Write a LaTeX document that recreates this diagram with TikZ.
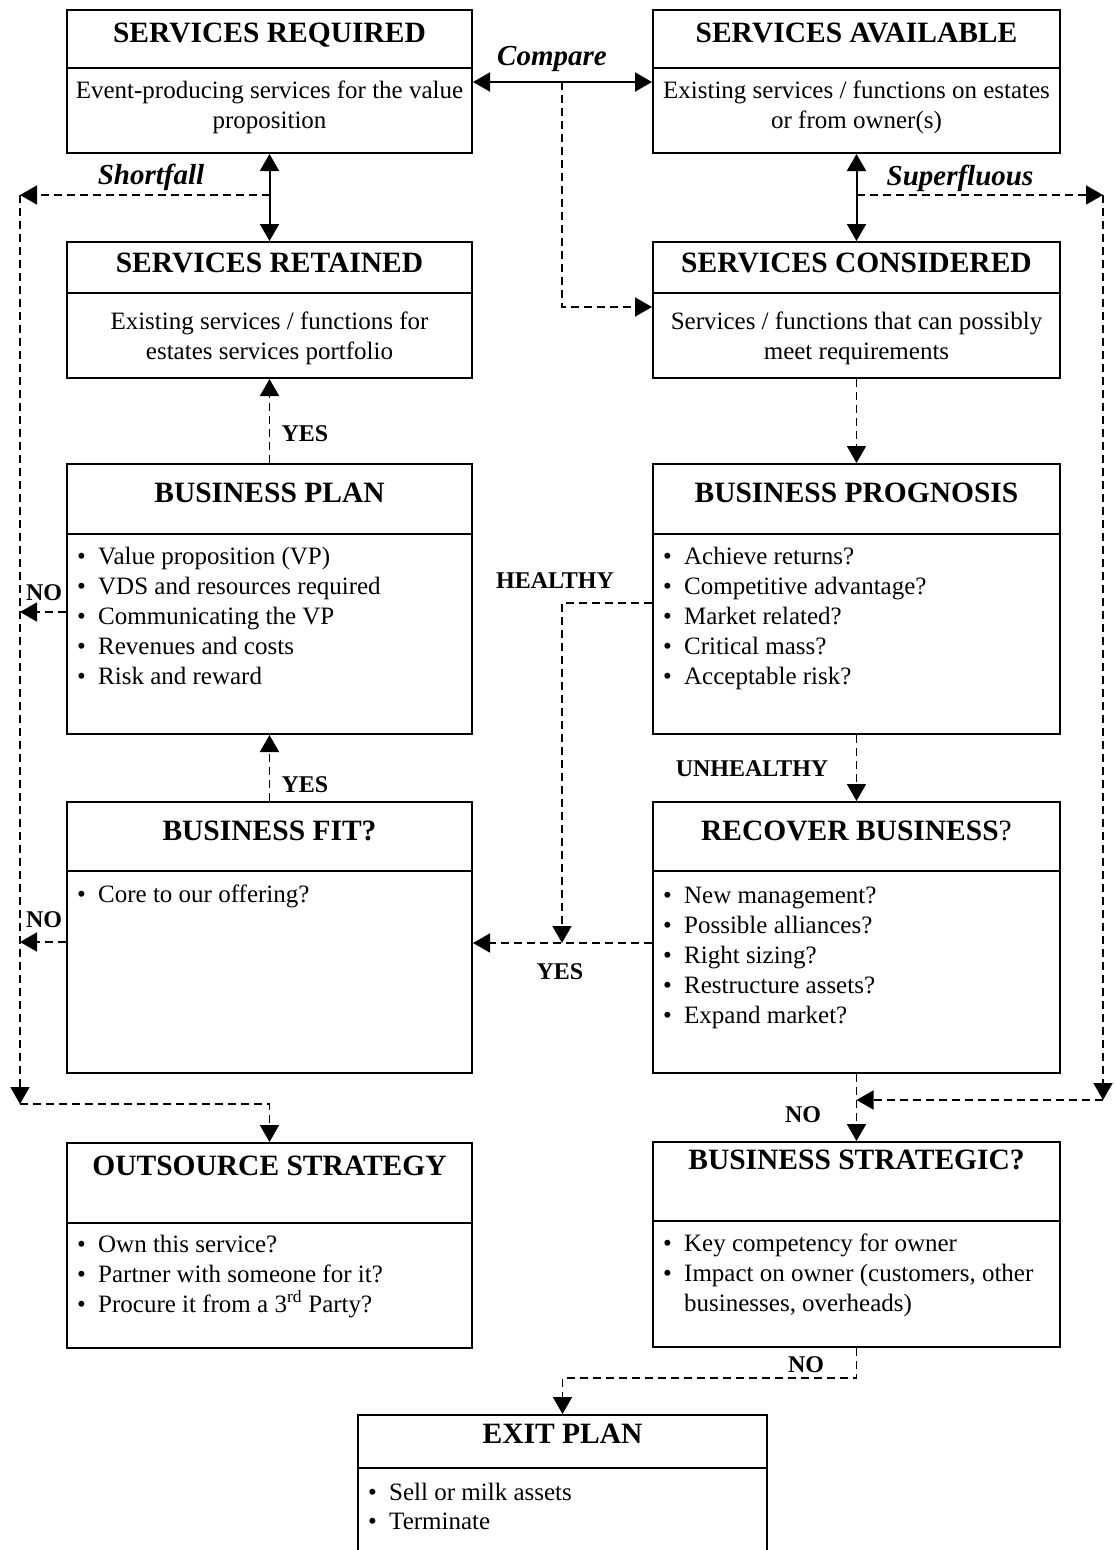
\documentclass[tikz,border=0pt]{standalone}
\usepackage{fontspec}
\setmainfont{Liberation Serif}
\usetikzlibrary{arrows.meta}

% A framed box with a header rule: name, x1, y1, x2, y2, y of the rule
\newcommand\flowbox[6]{%
  \node[box, minimum width={#4-#2}, minimum height={#5-#3}] (#1) at ({(#2+#4)/2},{(#3+#5)/2}) {};
  \draw[divider] (#2,#6) -- (#4,#6);
}
% One bulleted line: name, x, baseline y, text
\newcommand\bitem[4]{\node[items] (#1) at (#2,#3) {\makebox[21pt][l]{\textbullet}#4};}

\begin{document}
\begin{tikzpicture}[x=1pt,y=-1pt,
  box/.style={draw, line width=2pt, rectangle, inner sep=0pt},
  divider/.style={line width=1.6pt},
  title/.style={font=\fontsize{29.5}{35}\selectfont\bfseries, anchor=base, inner sep=0pt},
  body/.style={font=\fontsize{25}{30}\selectfont, anchor=base, inner sep=0pt},
  items/.style={font=\fontsize{25}{30}\selectfont, anchor=base west, inner sep=0pt},
  tag/.style={font=\fontsize{24}{28}\selectfont\bfseries, anchor=base, inner sep=0pt},
  itag/.style={font=\fontsize{29}{34}\selectfont\bfseries\itshape, anchor=base, inner sep=0pt},
  tip/.tip={Triangle[length=17pt,width=19pt]},
  link2/.style={line width=2pt, tip-tip},
  dlink/.style={line width=1.8pt, dash pattern=on 8pt off 5pt, -tip},
]
\useasboundingbox (0,0) rectangle (1115,1550);
\clip (0,0) rectangle (1115,1550);
\fill[white] (0,0) rectangle (1115,1550);

% ---------- boxes ----------
\flowbox{sreq}{67}{10}{472}{153}{68}
\node[title] (sreq-t) at (269.5,42) {SERVICES REQUIRED};
\node[body] (sreq-b1) at (269.5,98) {Event-producing services for the value};
\node[body] (sreq-b2) at (269.5,128) {proposition};

\flowbox{savail}{653}{10}{1060}{153}{68}
\node[title] (savail-t) at (856.5,42) {SERVICES AVAILABLE};
\node[body] (savail-b1) at (856.5,98) {Existing services / functions on estates};
\node[body] (savail-b2) at (856.5,128) {or from owner(s)};

\flowbox{sret}{67}{242}{472}{378}{293}
\node[title] (sret-t) at (269.5,272) {SERVICES RETAINED};
\node[body] (sret-b1) at (269.5,329) {Existing services / functions for};
\node[body] (sret-b2) at (269.5,359) {estates services portfolio};

\flowbox{scons}{653}{242}{1060}{378}{293}
\node[title] (scons-t) at (856.5,272) {SERVICES CONSIDERED};
\node[body] (scons-b1) at (856.5,329) {Services / functions that can possibly};
\node[body] (scons-b2) at (856.5,359) {meet requirements};

\flowbox{bplan}{67}{464}{472}{734}{534}
\node[title] (bplan-t) at (269.5,502) {BUSINESS PLAN};
\bitem{bplan-1}{77}{564}{Value proposition (VP)}
\bitem{bplan-2}{77}{594}{VDS and resources required}
\bitem{bplan-3}{77}{624}{Communicating the VP}
\bitem{bplan-4}{77}{654}{Revenues and costs}
\bitem{bplan-5}{77}{684}{Risk and reward}

\flowbox{bprog}{653}{464}{1060}{734}{534}
\node[title] (bprog-t) at (856.5,502) {BUSINESS PROGNOSIS};
\bitem{bprog-1}{663}{564}{Achieve returns?}
\bitem{bprog-2}{663}{594}{Competitive advantage?}
\bitem{bprog-3}{663}{624}{Market related?}
\bitem{bprog-4}{663}{654}{Critical mass?}
\bitem{bprog-5}{663}{684}{Acceptable risk?}

\flowbox{bfit}{67}{802}{472}{1073}{871}
\node[title] (bfit-t) at (269.5,840) {BUSINESS FIT?};
\bitem{bfit-1}{77}{902}{Core to our offering?}

\flowbox{rb}{653}{802}{1060}{1073}{871}
\node[title] (rb-t) at (856.5,840) {RECOVER BUSINESS\textmd{?}};
\bitem{rb-1}{663}{903}{New management?}
\bitem{rb-2}{663}{933}{Possible alliances?}
\bitem{rb-3}{663}{963}{Right sizing?}
\bitem{rb-4}{663}{993}{Restructure assets?}
\bitem{rb-5}{663}{1023}{Expand market?}

\flowbox{outs}{67}{1143}{472}{1348}{1223}
\node[title] (outs-t) at (269.5,1175) {OUTSOURCE STRATEGY};
\bitem{outs-1}{77}{1252}{Own this service?}
\bitem{outs-2}{77}{1282}{Partner with someone for it?}
\bitem{outs-3}{77}{1312}{Procure it from a 3\textsuperscript{rd} Party?}

\flowbox{bstrat}{653}{1142}{1060}{1347}{1221}
\node[title] (bstrat-t) at (856.5,1169) {BUSINESS STRATEGIC?};
\bitem{bstrat-1}{663}{1251}{Key competency for owner}
\bitem{bstrat-2}{663}{1281}{Impact on owner (customers, other}
\node[items] (bstrat-3) at (663,1311) {\makebox[21pt][l]{}businesses, overheads)};

\flowbox{exit}{358}{1415}{767}{1580}{1468}
\node[title] (exit-t) at (562.5,1443) {EXIT PLAN};
\bitem{exit-1}{368}{1500}{Sell or milk assets}
\bitem{exit-2}{368}{1529}{Terminate}

% ---------- connectors ----------
\coordinate (cmp) at (562,82);
\coordinate (cmpturn) at (562,307);
\draw[link2] (sreq.east |- cmp) -- (savail.west |- cmp);
\draw[dlink] (cmp) -- (cmpturn) -- (scons.west |- cmpturn);
\node[itag] (cmp-l) at (552,65) {Compare};

\draw[link2] (sreq.south) -- (sret.north);
\draw[link2] (savail.south) -- (scons.north);

% shortfall rail on the left
\coordinate (sfall) at (269.5,195);
\coordinate (railLtop) at (20,195);
\coordinate (railLbot) at (20,1104);
\draw[dlink] (sfall) -- (railLtop);
\draw[dlink] (railLtop) -- (railLbot);
\draw[dlink] (railLbot) -| (outs.north);
\node[itag] (sfall-l) at (151,184) {Shortfall};

% superfluous rail on the right
\coordinate (sflu) at (856.5,195);
\coordinate (railRtop) at (1103,195);
\coordinate (railRbot) at (1103,1100);
\draw[dlink] (sflu) -- (railRtop);
\draw[dlink] (railRtop) -- (railRbot);
\draw[dlink] (railRbot) -- (railRbot -| rb.south);
\node[itag] (sflu-l) at (960,185) {Superfluous};

% left column
\draw[dlink] (bplan.north) -- (sret.south);
\node[tag] (yes-a) at (305,441) {YES};
\draw[dlink] (bfit.north) -- (bplan.south);
\node[tag] (yes-b) at (305,792) {YES};
\coordinate (noA) at (20,612);
\draw[dlink] (bplan.west |- noA) -- (noA);
\node[tag] (no-a) at (44,600) {NO};
\coordinate (noB) at (20,942);
\draw[dlink] (bfit.west |- noB) -- (noB);
\node[tag] (no-b) at (44,927) {NO};

% right column
\draw[dlink] (scons.south) -- (bprog.north);
\draw[dlink] (bprog.south) -- (rb.north);
\node[tag] (unh) at (752,776) {UNHEALTHY};
\draw[dlink] (rb.south) -- (bstrat.north);
\node[tag] (no-c) at (803,1122) {NO};

% healthy / recovered back to business fit
\coordinate (mid) at (562,943);
\coordinate (hturn) at (562,603);
\draw[dlink] (rb.west |- mid) -- (bfit.east |- mid);
\draw[dlink] (bprog.west |- hturn) -- (hturn) -- (mid);
\node[tag] (hl) at (555,588) {HEALTHY};
\node[tag] (yes-c) at (560,979) {YES};

% not strategic: exit
\coordinate (exturn) at (856.5,1378);
\draw[dlink] (bstrat.south) -- (exturn) -| (exit.north);
\node[tag] (no-d) at (806,1372) {NO};
\end{tikzpicture}
\end{document}
